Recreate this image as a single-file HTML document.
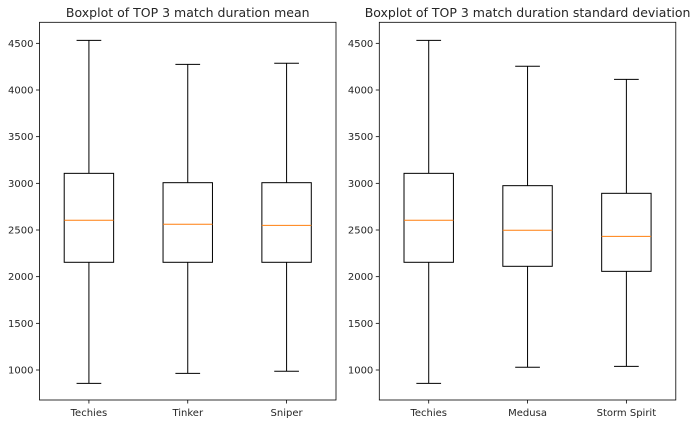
<!DOCTYPE html>
<html><head><meta charset="utf-8"><style>
body{margin:0;background:#fff;width:691px;height:424px;overflow:hidden}
svg text{font-family:"DejaVu Sans","Liberation Sans",sans-serif;fill:#262626}
</style></head><body>
<svg id="chart" width="691" height="424"></svg>
<script>
const leftTitle = "Boxplot of TOP 3 match duration mean";
const rightTitle = "Boxplot of TOP 3 match duration standard deviation";
const leftCategories = ["Techies","Tinker","Sniper"];
const leftLow = [857, 964, 986];
const leftQ1 = [2154, 2154, 2154];
const leftMedian = [2604, 2561, 2550];
const leftQ3 = [3107, 3007, 3007];
const leftHigh = [4532, 4275, 4286];
const rightCategories = ["Techies","Medusa","Storm Spirit"];
const rightLow = [857, 1029, 1039];
const rightQ1 = [2154, 2111, 2057];
const rightMedian = [2604, 2497, 2432];
const rightQ3 = [3107, 2975, 2893];
const rightHigh = [4532, 4254, 4114];
const yTicks = [1000,1500,2000,2500,3000,3500,4000,4500];

const NS="http://www.w3.org/2000/svg";
const svgEl=document.getElementById('chart');
function mk(tag,attrs,parent){const e=document.createElementNS(NS,tag);for(const k in attrs)e.setAttribute(k,attrs[k]);(parent||svgEl).appendChild(e);return e;}
const plotTop=22.3, plotBottom=400, W=296.5;
function yScale(v){return 370-(v-1000)*0.093333;}
function panel(x0,title,cats,low,q1,med,q3,high,prefix){
  const g=mk('g',{});
  
  
  const t=mk('text',{x:x0+W/2,y:17,'text-anchor':'middle','font-size':12.5},g);
  t.textContent=title;
  
  
  const xScale=i=>x0+(i+0.5)*W/3;
  const bw=W/6, cw=W/12;
  yTicks.forEach(v=>{
    const y=yScale(v);
    mk('line',{x1:x0-3.5,x2:x0,y1:y,y2:y,stroke:'#000','stroke-width':0.8},g);
    const tl=mk('text',{x:x0-6,y:y+3.5,'text-anchor':'end','font-size':10},g);
    tl.textContent=v;
    
    
  });
  cats.forEach((c,i)=>{
    const cx=xScale(i);
    const bx=mk('g',{},g);
    
    
    const s={stroke:'#000','stroke-width':1,fill:'none'};
    mk('line',Object.assign({x1:cx,x2:cx,y1:yScale(high[i]),y2:yScale(q3[i])},s),bx);
    mk('line',Object.assign({x1:cx,x2:cx,y1:yScale(q1[i]),y2:yScale(low[i])},s),bx);
    mk('line',Object.assign({x1:cx-cw/2,x2:cx+cw/2,y1:yScale(high[i]),y2:yScale(high[i])},s),bx);
    mk('line',Object.assign({x1:cx-cw/2,x2:cx+cw/2,y1:yScale(low[i]),y2:yScale(low[i])},s),bx);
    mk('rect',Object.assign({x:cx-bw/2,y:yScale(q3[i]),width:bw,height:yScale(q1[i])-yScale(q3[i])},s),bx);
    mk('line',{x1:cx-bw/2,x2:cx+bw/2,y1:yScale(med[i]),y2:yScale(med[i]),stroke:'#ff7f0e','stroke-width':1},bx);
    mk('line',{x1:cx,x2:cx,y1:plotBottom,y2:plotBottom+3.5,stroke:'#000','stroke-width':0.8},g);
    const xl=mk('text',{x:cx,y:plotBottom+16,'text-anchor':'middle','font-size':10},g);
    xl.textContent=c;
    
    
  });
  const fr=mk('rect',{x:x0,y:plotTop,width:W,height:plotBottom-plotTop,fill:'none',stroke:'#000','stroke-width':0.8},g);
  
  
}
panel(39.5,leftTitle,leftCategories,leftLow,leftQ1,leftMedian,leftQ3,leftHigh,'mean');
panel(379.3,rightTitle,rightCategories,rightLow,rightQ1,rightMedian,rightQ3,rightHigh,'std');
</script>
</body></html>
